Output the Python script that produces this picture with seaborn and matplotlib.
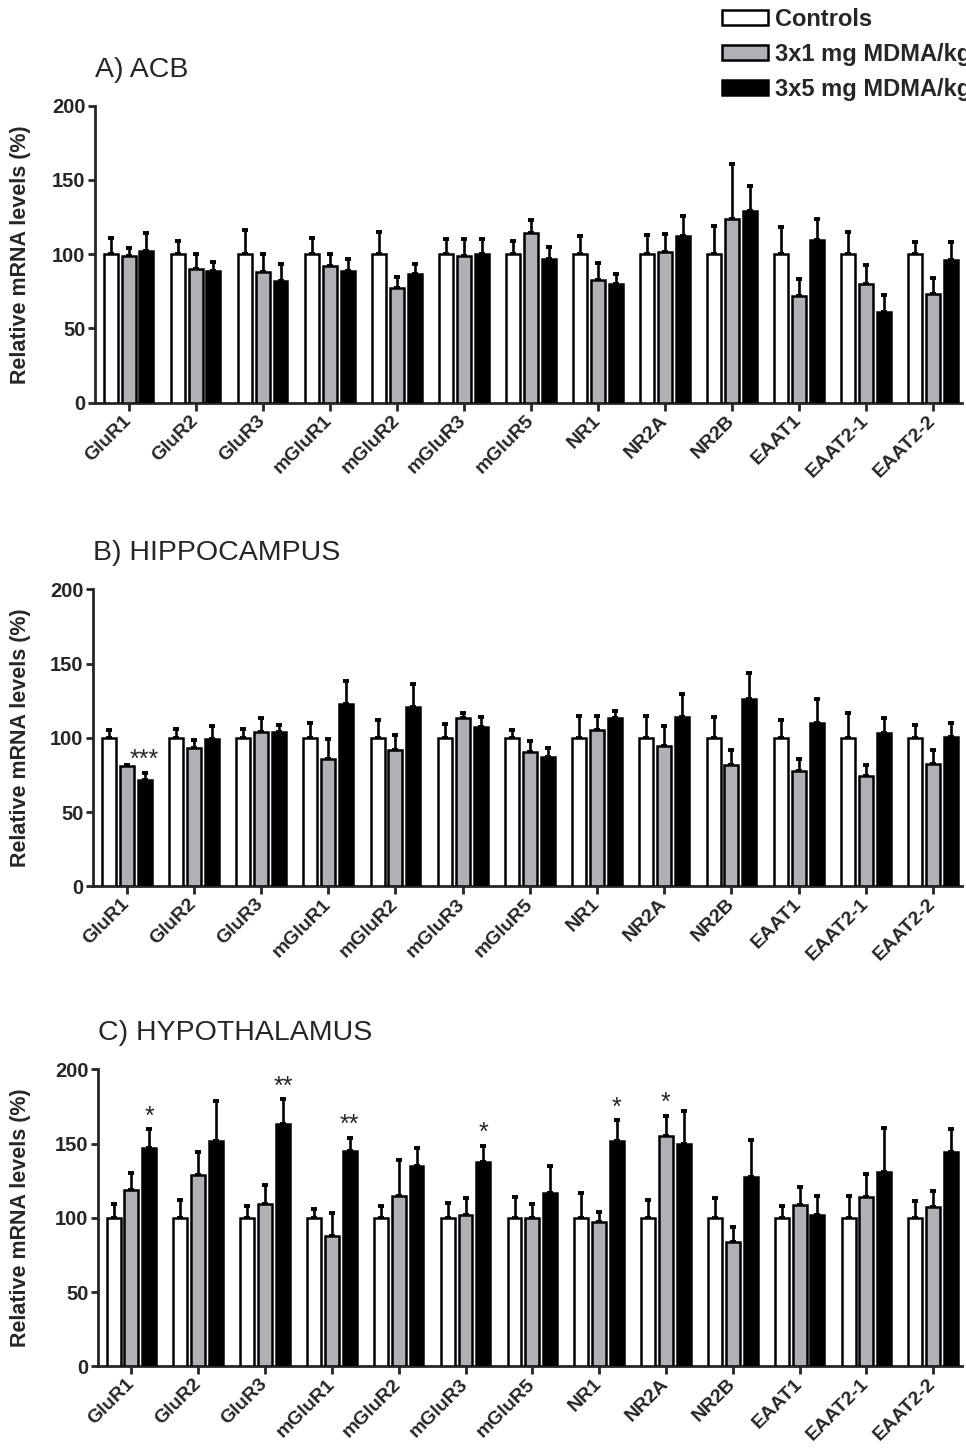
import numpy as np
import pandas as pd
import seaborn as sns
import matplotlib.pyplot as plt
from matplotlib.patches import Patch

##### data #####
genes = ["GluR1", "GluR2", "GluR3", "mGluR1", "mGluR2", "mGluR3", "mGluR5",
         "NR1", "NR2A", "NR2B", "EAAT1", "EAAT2-1", "EAAT2-2"]
groups = ["Controls", "3x1 mg MDMA/kg", "3x5 mg MDMA/kg"]
colors = ["white", "#b1b0b6", "black"]

# A) ACB
acb_ctrl = [100] * 13
acb_ctrl_sem = [11, 9, 16, 11, 15, 10, 9, 12, 13, 19, 18, 15, 8]
acb_low = [98.5, 90, 88, 92, 77, 99, 114, 82.6, 101.7, 124, 72, 80, 73]
acb_low_sem = [5.5, 10, 12, 8, 7.6, 11, 9, 11.4, 11.9, 36.7, 11, 13, 11]
acb_high = [102, 89, 82, 88.7, 87, 100, 97, 80, 112, 129, 109.5, 61, 96]
acb_high_sem = [12.5, 6, 11.6, 8, 6.6, 10, 8, 7, 13.5, 16.7, 14, 11.5, 12]

# B) HIPPOCAMPUS
hip_ctrl = [100] * 13
hip_ctrl_sem = [5.4, 6, 6, 9.7, 12, 9, 5, 15, 15, 14, 11.7, 17, 8.8]
hip_low = [80.7, 92.8, 104, 85.6, 91.7, 113.5, 90.6, 105, 94.6, 81.6, 77.8, 74.6, 82.5]
hip_low_sem = [1.3, 5.6, 9, 13.7, 10.1, 3.5, 7.2, 10, 13.4, 10.4, 7.6, 7.4, 9.5]
hip_high = [71.7, 99, 104, 123, 121, 107, 87, 113.5, 114, 126, 110, 103, 100.4]
hip_high_sem = [4.7, 9, 4.5, 15.4, 15, 6.7, 5.8, 4.5, 15.7, 17.8, 16, 10, 9.6]

# C) HYPOTHALAMUS
hyp_ctrl = [100] * 13
hyp_ctrl_sem = [9, 12, 8, 6, 8, 10, 14, 17, 12, 13, 8, 15, 11]
hyp_low = [118.4, 128.5, 109, 87.6, 114.4, 102, 100, 97.5, 154.8, 84, 108.5, 113.7, 107.4]
hyp_low_sem = [11.6, 16, 13, 15.4, 24.6, 11.5, 9, 6.1, 14, 10, 12.5, 15.7, 10.6]
hyp_high = [146.7, 152, 163, 145, 134.6, 137.8, 116.9, 152, 149.4, 127.6, 101.8, 130.8, 144]
hyp_high_sem = [13.1, 26.4, 17, 9, 12.4, 10.7, 18.1, 13.6, 22.6, 25, 12.8, 29.6, 15.6]

# significance marks: (gene, group index, text)
hip_stars = [("GluR1", 2, "***")]
hyp_stars = [("GluR1", 2, "*"), ("GluR3", 2, "**"), ("mGluR1", 2, "**"),
             ("mGluR3", 2, "*"), ("NR1", 2, "*"), ("NR2A", 1, "*")]

panels = [
    ("A) ACB", [acb_ctrl, acb_low, acb_high], [acb_ctrl_sem, acb_low_sem, acb_high_sem], [], 95, 105.7),
    ("B) HIPPOCAMPUS", [hip_ctrl, hip_low, hip_high], [hip_ctrl_sem, hip_low_sem, hip_high_sem], hip_stars, 93, 589.3),
    ("C) HYPOTHALAMUS", [hyp_ctrl, hyp_low, hyp_high], [hyp_ctrl_sem, hyp_low_sem, hyp_high_sem], hyp_stars, 98, 1069.3),
]

sns.set_style("ticks")
plt.rcParams['font.family'] = ['Liberation Sans', 'DejaVu Sans']

W, H = 966, 1454
fig = plt.figure(figsize=(W / 100, H / 100), dpi=100)

for title, means, sems, stars, left_px, top_px in panels:
    ax_h = 297
    ax_w = 962 - left_px
    ax = fig.add_axes([left_px / W, 1 - (top_px + ax_h) / H, ax_w / W, ax_h / H])

    df = pd.DataFrame({
        "gene": np.tile(genes, 3),
        "group": np.repeat(groups, 13),
        "value": np.concatenate(means),
    })
    sns.barplot(data=df, x="gene", y="value", hue="group", order=genes, hue_order=groups,
                palette=colors, edgecolor="black", linewidth=1.8, width=0.8, gap=0.22,
                errorbar=None, legend=False, ax=ax, zorder=3)

    bar_sets = list(ax.containers)
    # one-sided error bars (mean + SEM)
    for gi, cont in enumerate(bar_sets):
        xs = [p.get_x() + p.get_width() / 2 for p in cont.patches]
        ax.errorbar(xs, means[gi], yerr=[np.zeros(13), sems[gi]], fmt="none",
                    ecolor="black", elinewidth=1.9, capsize=2.4, capthick=2.8, zorder=2)

    for gene, gi, txt in stars:
        i = genes.index(gene)
        p = bar_sets[gi].patches[i]
        ax.text(p.get_x() + p.get_width() / 2, means[gi][i] + sems[gi][i] + 8.5, txt,
                ha="center", va="center", fontsize=18)

    ax.set_ylim(0, 200)
    ax.set_yticks([0, 50, 100, 150, 200])
    ax.set_xlim(-0.5, 12.43)
    ax.set_xlabel("")
    ax.set_ylabel("Relative mRNA levels (%)", fontsize=15.5, fontweight="bold")
    ax.yaxis.set_label_coords((31 - left_px) / ax_w, 0.5)
    sns.despine(ax=ax)
    for s in ["left", "bottom"]:
        ax.spines[s].set_linewidth(2)
    ax.tick_params(axis="y", length=5, width=2, labelsize=14.5, pad=2)
    ax.tick_params(axis="x", length=6, width=2, labelsize=14, pad=5)
    for lab in ax.get_yticklabels():
        lab.set_fontweight("bold")
    ax.set_xticks(range(13))
    ax.set_xticklabels(genes, rotation=45, ha="right", va="center",
                       rotation_mode="anchor", fontweight="bold")
    ax.text(0.0, 1 + 36 / ax_h, title, transform=ax.transAxes,
            fontsize=20.5, va="center", ha="left")

handles = [Patch(facecolor=c, edgecolor="black", linewidth=1.8) for c in colors]
fig.legend(handles, groups, loc="upper left", bbox_to_anchor=(722 / W, 1 - 8 / H),
           frameon=False, borderpad=0, borderaxespad=0, handlelength=1.95,
           handleheight=0.6, handletextpad=0.3, labelspacing=0.5,
           prop={"size": 17, "weight": "bold"})

fig.savefig("out.png", dpi=100)
